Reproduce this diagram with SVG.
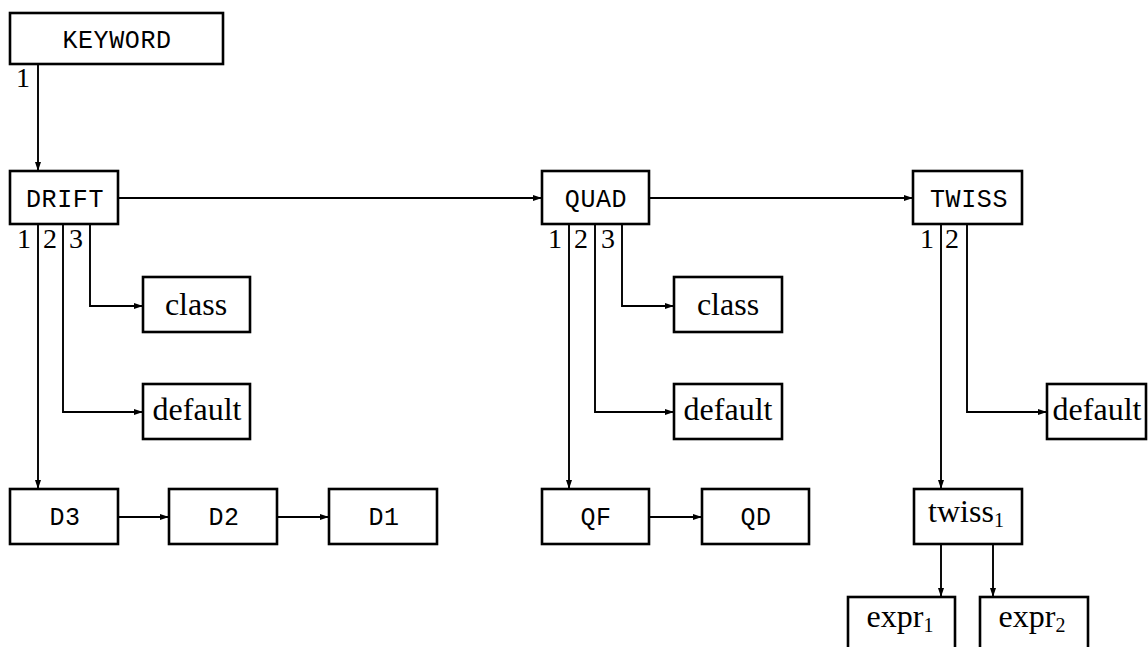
<svg xmlns="http://www.w3.org/2000/svg" width="1148" height="647" viewBox="0 0 1148 647">
<style>
rect{fill:#fff;stroke:#000;stroke-width:2.6}
.tt{font-family:"Liberation Mono","DejaVu Sans Mono",monospace;font-size:25px;letter-spacing:0.6px;text-anchor:middle}
.rm{font-family:"Liberation Serif","DejaVu Serif",serif;font-size:32px;text-anchor:middle}
.lb{font-family:"Liberation Serif","DejaVu Serif",serif;font-size:28px;text-anchor:middle}
#connectors path{fill:none;stroke:#000;stroke-width:1.9;marker-end:url(#ah)}
</style>
<defs>
<marker id="ah" markerUnits="userSpaceOnUse" markerWidth="10" markerHeight="8" refX="9" refY="4" orient="auto">
<path d="M0,1 L9,4 L0,7 Z" fill="#000"/>
</marker>
</defs>
<rect x="0" y="0" width="1148" height="647" style="stroke:none"/>
<g id="connectors">
<path d="M38,64 V171"/>
<path d="M118,198 H542"/>
<path d="M649,198 H913"/>
<path d="M90,224 V306 H143"/>
<path d="M63,224 V412 H143"/>
<path d="M38,224 V489"/>
<path d="M118,517 H169"/>
<path d="M277,517 H329"/>
<path d="M622,224 V306 H674"/>
<path d="M595,224 V412 H674"/>
<path d="M569,224 V489"/>
<path d="M649,517 H702"/>
<path d="M967,224 V412 H1047"/>
<path d="M941,224 V489"/>
<path d="M941,544 V597"/>
<path d="M993,544 V597"/>
</g>
<g id="keyword"><rect x="10" y="13" width="213" height="51"/><text class="tt" x="117" y="48">KEYWORD</text><text class="lb" x="23" y="87">1</text></g>
<g id="drift"><rect x="10" y="171" width="108" height="53"/><text class="tt" x="65" y="207">DRIFT</text>
<text class="lb" x="24" y="248">1</text><text class="lb" x="50" y="248">2</text><text class="lb" x="76" y="248">3</text></g>
<g id="quad"><rect x="542" y="171" width="107" height="53"/><text class="tt" x="596" y="207">QUAD</text>
<text class="lb" x="555" y="248">1</text><text class="lb" x="581" y="248">2</text><text class="lb" x="608" y="248">3</text></g>
<g id="twiss"><rect x="913" y="171" width="109" height="53"/><text class="tt" x="969" y="207">TWISS</text>
<text class="lb" x="927" y="248">1</text><text class="lb" x="952" y="248">2</text></g>
<g id="drift-class"><rect x="143" y="277" width="107" height="55"/><text class="rm" x="196" y="315">class</text></g>
<g id="drift-default"><rect x="143" y="384" width="107" height="55"/><text class="rm" x="197" y="420">default</text></g>
<g id="quad-class"><rect x="674" y="277" width="108" height="55"/><text class="rm" x="728" y="315">class</text></g>
<g id="quad-default"><rect x="674" y="384" width="108" height="55"/><text class="rm" x="728" y="420">default</text></g>
<g id="twiss-default"><rect x="1047" y="384" width="99" height="55"/><text class="rm" x="1097" y="420">default</text></g>
<g id="d3"><rect x="10" y="489" width="108" height="55"/><text class="tt" x="65" y="525">D3</text></g>
<g id="d2"><rect x="169" y="489" width="108" height="55"/><text class="tt" x="224" y="525">D2</text></g>
<g id="d1"><rect x="329" y="489" width="108" height="55"/><text class="tt" x="384" y="525">D1</text></g>
<g id="qf"><rect x="542" y="489" width="107" height="55"/><text class="tt" x="596" y="525">QF</text></g>
<g id="qd"><rect x="702" y="489" width="107" height="55"/><text class="tt" x="756" y="525">QD</text></g>
<g id="twiss1"><rect x="914" y="489" width="108" height="55"/><text class="rm" x="966" y="522">twiss<tspan font-size="20" dy="5">1</tspan></text></g>
<g id="expr1"><rect x="848" y="597" width="107" height="60"/><text class="rm" x="900" y="627">expr<tspan font-size="20" dy="5">1</tspan></text></g>
<g id="expr2"><rect x="980" y="597" width="108" height="60"/><text class="rm" x="1032" y="627">expr<tspan font-size="20" dy="5">2</tspan></text></g>
</svg>
